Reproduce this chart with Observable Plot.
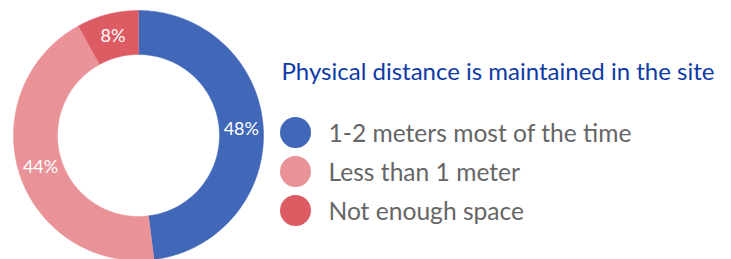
<!DOCTYPE html>
<html>
<head>
<meta charset="utf-8">
<script src="https://cdn.jsdelivr.net/npm/d3@7"></script>
<script src="https://cdn.jsdelivr.net/npm/@observablehq/plot@0.6"></script>
<style>
  html, body { margin: 0; padding: 0; background: #fff; }
  svg { display: block; }
</style>
</head>
<body>
<div id="chart"></div>
<script>
const title = "Physical distance is maintained in the site";
const categories = ["1-2 meters most of the time", "Less than 1 meter", "Not enough space"];
const values = [48, 44, 8];
const labels = ["48%", "44%", "8%"];
const colors = ["#4167b8", "#e99297", "#dd5c64"];

const W = 731, H = 259;
const cx = 138, cy = 135, rOuter = 125, rInner = 81;

// slice geometry from d3.pie (angles clockwise from 12 o'clock)
const arcs = d3.pie().sort(null).value(d => d.value)(
  categories.map((c, i) => ({category: c, value: values[i], label: labels[i]}))
);
const polar = (a, r) => [cx + r * Math.sin(a), cy - r * Math.cos(a)];
const poly = [];
for (const a of arcs) {
  const n = 120;
  const pts = [];
  for (let k = 0; k <= n; k++) pts.push(polar(a.startAngle + (a.endAngle - a.startAngle) * k / n, rOuter));
  for (let k = n; k >= 0; k--) pts.push(polar(a.startAngle + (a.endAngle - a.startAngle) * k / n, rInner));
  for (const [x, y] of pts) poly.push({category: a.data.category, x, y});
}
const labelPts = arcs.map(a => {
  const [x, y] = polar((a.startAngle + a.endAngle) / 2, (rOuter + rInner) / 2);
  return {x, y, label: a.data.label};
});
const legend = categories.map((c, i) => ({category: c, y: 132 + i * 39}));

const font = "Lato, 'Open Sans', sans-serif";
const chart = Plot.plot({
  width: W, height: H,
  margin: 0,
  x: {domain: [0, W], range: [0, W], axis: null},
  y: {domain: [0, H], range: [0, H], axis: null},
  color: {domain: categories, range: colors},
  style: {fontFamily: font, background: "#fff"},
  marks: [
    Plot.line(poly, {x: "x", y: "y", z: "category", fill: "category", stroke: "category", strokeWidth: 0.5, curve: "linear"}),
    Plot.text(labelPts, {x: "x", y: "y", text: "label", fill: "white", fontSize: 18, fontFamily: font}),
    Plot.text([title], {x: 281, y: 71.5, text: d => d, textAnchor: "start", fill: "#0e3aa6", fontSize: 24, fontFamily: font}),
    Plot.dot(legend, {x: 295, y: "y", r: 15.5, fill: "category", stroke: null}),
    Plot.text(legend, {x: 328, y: d => d.y + 1.5, text: "category", textAnchor: "start", fill: "#666666", fontSize: 24.6, fontFamily: font})
  ]
});
document.getElementById("chart").appendChild(chart);
</script>
</body>
</html>
